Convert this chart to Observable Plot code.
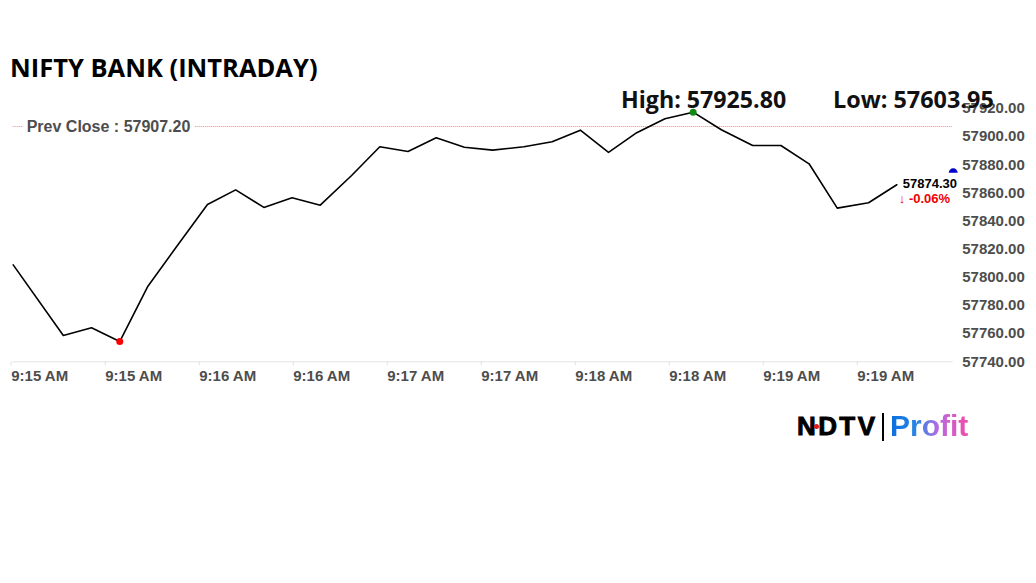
<!DOCTYPE html>
<html><head><meta charset="utf-8">
<script src="https://cdn.jsdelivr.net/npm/d3@7"></script>
<script src="https://cdn.jsdelivr.net/npm/@observablehq/plot@0.6"></script>
<style>
html,body{margin:0;padding:0;background:#fff;}
body{width:1036px;height:583px;overflow:hidden;position:relative;font-family:"Liberation Sans",Arial,sans-serif;}
#chart{position:absolute;left:0;top:0;}
.ov{position:absolute;white-space:nowrap;line-height:1;}
#title{left:10px;top:54.5px;font-family:"Open Sans",sans-serif;font-weight:700;font-size:25.5px;color:#000;}
#high{left:621px;top:88px;font-family:"Open Sans",sans-serif;font-weight:700;font-size:23.2px;color:#111;}
#low{left:833px;top:88px;font-family:"Open Sans",sans-serif;font-weight:700;font-size:23.4px;color:#111;}
#ndtv{left:797px;top:413px;font-weight:900;font-size:26px;letter-spacing:2.4px;color:#000;-webkit-text-stroke:0.9px #000;}
#bar{left:882px;top:413px;width:2px;height:28px;background:#000;}
#profit{left:890px;top:411px;font-weight:700;font-size:30px;background:linear-gradient(90deg,#0b6fe0 0%,#2b86e4 35%,#b86be0 62%,#f24aa8 100%);-webkit-background-clip:text;background-clip:text;color:transparent;}
#rdot{left:814px;top:424px;width:5px;height:5px;border-radius:50%;background:#e01b1b;}
</style>
</head><body>
<div id="chart"></div>
<div class="ov" id="title"></div>
<div class="ov" id="high"></div>
<div class="ov" id="low"></div>
<div class="ov" id="ndtv">NDTV</div>
<div class="ov" id="rdot"></div>
<div class="ov" id="bar"></div>
<div class="ov" id="profit">Profit</div>
<script>
// ---- data ----
const chartTitle = "NIFTY BANK (INTRADAY)";
const seconds = [0,16,25,34,43,52,62,71,80,89,98,108,117,126,135,144,153,163,172,181,190,199,208,217,226,236,245,254,263,273,282];
const prices = [57808.9,57758.7,57764.2,57754.4,57793.7,57821.4,57851.8,57862.2,57849.7,57856.6,57851.3,57872.4,57892.8,57889.5,57899.2,57892.5,57890.4,57892.8,57896.4,57904.6,57888.8,57902.8,57912.7,57917.4,57904.9,57893.7,57893.7,57880.7,57849.2,57853.0,57865.8];
const tickSeconds = [0,30,60,90,120,150,180,210,240,270];
const tickLabels = ["9:15 AM","9:15 AM","9:16 AM","9:16 AM","9:17 AM","9:17 AM","9:18 AM","9:18 AM","9:19 AM","9:19 AM"];
const yTicks = [57740,57760,57780,57800,57820,57840,57860,57880,57900,57920];
const timeDomain = [0,300];
const prevClose = 57907.20;
const dayHigh = 57925.80;
const dayLow = 57603.95;
const lastPrice = 57874.30;
const lastTime = 300;
const changePct = "-0.06%";

document.getElementById("title").textContent = chartTitle;
document.getElementById("high").textContent = "High: " + dayHigh.toFixed(2);
document.getElementById("low").textContent = "Low: " + dayLow.toFixed(2);

const data = seconds.map((t,i)=>({t, v: prices[i]}));
const iMin = d3.minIndex(prices), iMax = d3.maxIndex(prices);
const lastPt = data[data.length-1];

const halfCircle = {draw(ctx, size){ const r = Math.sqrt(size/Math.PI); ctx.moveTo(r,0); ctx.arc(0,0,r,0,Math.PI,true); ctx.closePath(); }};

const chart = Plot.plot({
  width: 1036, height: 400,
  marginTop: 108, marginBottom: 38.7, marginLeft: 12.7, marginRight: 83.3,
  style: {fontFamily: "'Liberation Sans', Arial, sans-serif", fontSize: "15px", background: "transparent", overflow: "visible"},
  x: {domain: timeDomain, label: null},
  y: {domain: [yTicks[0], yTicks[yTicks.length-1]], label: null},
  marks: [
    Plot.ruleY([yTicks[0]], {stroke: "#e3e3e3", strokeWidth: 1}),
    Plot.axisX({ticks: tickSeconds, tickFormat: (d,i)=>tickLabels[i], label: null, tickSize: 4, tickPadding: 5, textAnchor: "start", dx: -2, stroke: "#e0e0e0", fill: "#4d4d4d", fontWeight: "bold", fontSize: 15}),
    Plot.axisY({anchor: "right", ticks: yTicks, tickFormat: d3.format(".2f"), label: null, tickSize: 0, tickPadding: 9, fill: "#4d4d4d", fontWeight: "bold", fontSize: 15}),
    Plot.ruleY([prevClose], {stroke: "#f08a8a", strokeWidth: 1, strokeDasharray: "1,1"}),
    Plot.text([prevClose], {x: timeDomain[0], y: d=>d, text: d=>"Prev Close : " + d.toFixed(2), textAnchor: "start", dx: 13.5, fill: "#4d4d4d", fontWeight: "bold", fontSize: 16, stroke: "white", strokeWidth: 9}),
    Plot.line(data, {x: "t", y: "v", stroke: "#000", strokeWidth: 1.6}),
    Plot.dot([data[iMin]], {x: "t", y: "v", r: 3.5, fill: "#f00"}),
    Plot.dot([data[iMax]], {x: "t", y: "v", r: 3.5, fill: "#118811"}),
    Plot.dot([{t: lastTime, v: lastPrice}], {x: "t", y: "v", r: 4.5, fill: "#0000cc", symbol: halfCircle}),
    Plot.text([lastPt], {x: "t", y: "v", text: ()=>lastPrice.toFixed(2), textAnchor: "start", dx: 6, dy: -1, fill: "#000", fontWeight: "bold", fontSize: 13}),
    Plot.text([lastPt], {x: "t", y: "v", text: ()=>"\u2193 " + changePct, textAnchor: "start", dx: 2, dy: 14, fill: "#e00", fontWeight: "bold", fontSize: 13})
  ]
});
document.getElementById("chart").appendChild(chart);
</script>
</body></html>
